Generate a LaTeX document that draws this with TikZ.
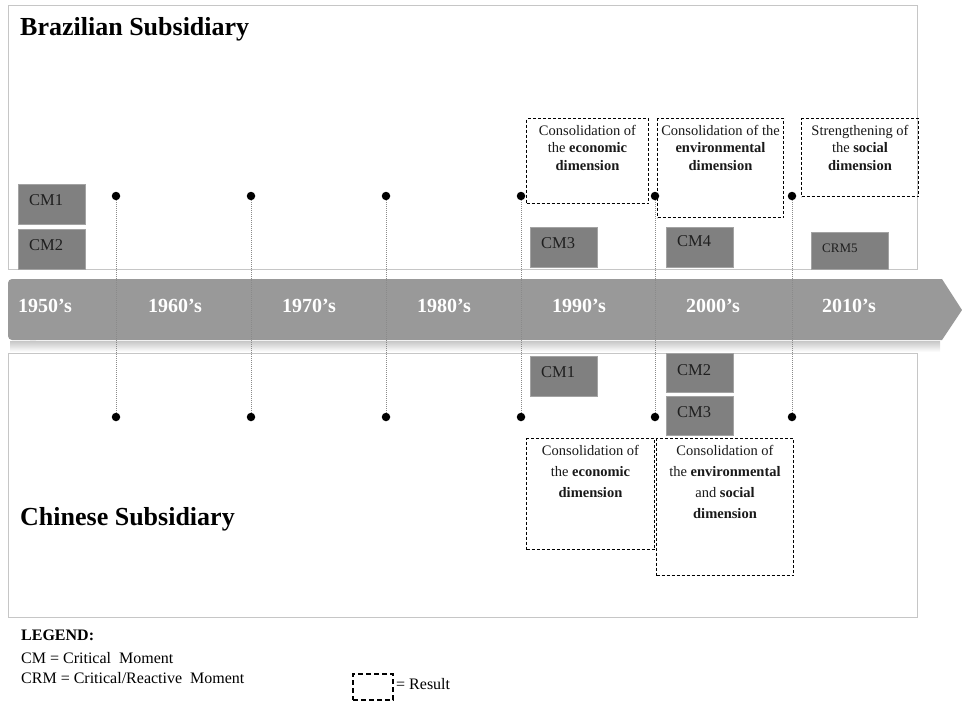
\documentclass[tikz,border=0pt]{standalone}
\usepackage{fontspec}
\setmainfont{Liberation Serif}
\definecolor{framegray}{HTML}{C6C6C6}
\definecolor{tlgray}{HTML}{999999}
\definecolor{boxgray}{HTML}{808080}
\definecolor{boxedge}{HTML}{A3A3A3}
\definecolor{guidegray}{HTML}{8A8A8A}
\tikzset{
  frame/.style={draw=framegray, line width=1.2pt},
  cmbox/.style={fill=boxgray, draw=boxedge, line width=0.8pt, anchor=north west, inner sep=0, minimum width=67pt, minimum height=40pt},
  cmtext/.style={anchor=base west, inner sep=0, font=\fontsize{16.5}{16.5}\selectfont, text=black!88},
  resbox/.style={draw=black, dash pattern=on 3pt off 2pt, line width=1pt, anchor=north west, inner sep=0},
  restext/.style={anchor=north, inner sep=0, align=center, text=black!90},
  dot/.style={circle, fill=black, inner sep=0, minimum size=8.5pt},
  guide/.style={draw=guidegray, line width=0.6pt, dash pattern=on 1pt off 1pt},
  year/.style={anchor=base, inner sep=0, font=\fontsize{20}{20}\selectfont\bfseries, text=white},
  title/.style={anchor=base west, inner sep=0, font=\fontsize{26}{26}\selectfont\bfseries},
  legtext/.style={anchor=base west, inner sep=0, font=\fontsize{16}{16}\selectfont},
}
\begin{document}
\begin{tikzpicture}[x=1pt,y=-1pt]
\useasboundingbox (0,0) rectangle (962,702);
% frames
\node[frame, anchor=north west, inner sep=0, minimum width=909pt, minimum height=264pt] (brframe) at (8,5) {};
\node[frame, anchor=north west, inner sep=0, minimum width=909pt, minimum height=264pt] (cnframe) at (8,353) {};
\node[title] (brtitle) at (20,35) {Brazilian Subsidiary};
\node[title] (cntitle) at (20,525) {Chinese Subsidiary};
% timeline
\shade[top color=black!22, bottom color=white] (10,341) rectangle (940,352);
\fill[tlgray, rounded corners=4pt] (8,279) rectangle (40,340);
\fill[tlgray] (30,279) -- (942,279) -- (962,310) -- (942,340) -- (30,340) -- cycle;
\node[year] (y50) at (45,312) {1950’s};
\node[year] (y60) at (175,312) {1960’s};
\node[year] (y70) at (309,312) {1970’s};
\node[year] (y80) at (444,312) {1980’s};
\node[year] (y90) at (579,312) {1990’s};
\node[year] (y00) at (713,312) {2000’s};
\node[year] (y10) at (849,312) {2010’s};
% dots and guides
\foreach \i/\x in {1/116,2/251,3/386,4/521,5/655,6/792}{
  \node[dot] (t\i) at (\x,196) {};
  \node[dot] (b\i) at (\x,417) {};
  \draw[guide] (t\i) -- (b\i);
}
% Brazilian critical moments
\node[cmbox] (bcm1) at (18,184) {};
\node[cmtext] at (29,205) {CM1};
\node[cmbox] (bcm2) at (18,229) {};
\node[cmtext] at (29,250) {CM2};
\node[cmbox] (bcm3) at (530,227) {};
\node[cmtext] at (541,248) {CM3};
\node[cmbox] (bcm4) at (666,227) {};
\node[cmtext] at (677,246) {CM4};
\node[cmbox, minimum width=77pt, minimum height=37pt] (bcrm5) at (811,232) {};
\node[cmtext, font=\fontsize{13}{13}\selectfont] at (822,252) {CRM5};
% Chinese critical moments
\node[cmbox] (ccm1) at (530,356) {};
\node[cmtext] at (541,377) {CM1};
\node[cmbox, minimum height=39pt] (ccm2) at (666,353) {};
\node[cmtext] at (677,375) {CM2};
\node[cmbox, minimum height=39pt] (ccm3) at (666,396) {};
\node[cmtext] at (677,417) {CM3};
% Brazilian results
\node[resbox, minimum width=122pt, minimum height=85pt] (br1) at (526,118) {};
\node[restext, font=\fontsize{14.5}{17.5}\selectfont] at ([yshift=-7pt]br1.north) {Consolidation of\\the \textbf{economic}\\\textbf{dimension}};
\node[resbox, minimum width=126pt, minimum height=99pt] (br2) at (657,118) {};
\node[restext, font=\fontsize{14.5}{17.5}\selectfont] at ([yshift=-7pt]br2.north) {Consolidation of the\\\textbf{environmental}\\\textbf{dimension}};
\node[resbox, minimum width=117pt, minimum height=78pt] (br3) at (801,118) {};
\node[restext, font=\fontsize{14.5}{17.5}\selectfont] at ([yshift=-7pt]br3.north) {Strengthening of\\the \textbf{social}\\\textbf{dimension}};
% Chinese results
\node[resbox, minimum width=128pt, minimum height=111pt] (cr1) at (526,438) {};
\node[restext, font=\fontsize{14.5}{21}\selectfont] at ([yshift=-7pt]cr1.north) {Consolidation of\\the \textbf{economic}\\\textbf{dimension}};
\node[resbox, minimum width=137pt, minimum height=137pt] (cr2) at (656,438) {};
\node[restext, font=\fontsize{14.5}{21}\selectfont] at ([yshift=-7pt]cr2.north) {Consolidation of\\the \textbf{environmental}\\and \textbf{social}\\\textbf{dimension}};
% legend
\node[legtext, font=\fontsize{16}{16}\selectfont\bfseries] (leg) at (21,640) {LEGEND:};
\node[legtext] (legcm) at (21,663) {CM = Critical\ \ Moment};
\node[legtext] (legcrm) at (21,683) {CRM = Critical/Reactive\ \ Moment};
\node[draw=black, line width=2pt, dash pattern=on 5pt off 3pt, anchor=north west, inner sep=0, minimum width=40pt, minimum height=26pt] (legbox) at (352,673) {};
\node[legtext] (legres) at ([xshift=2pt,yshift=-2pt]legbox.east) {= Result};
\end{tikzpicture}
\end{document}
